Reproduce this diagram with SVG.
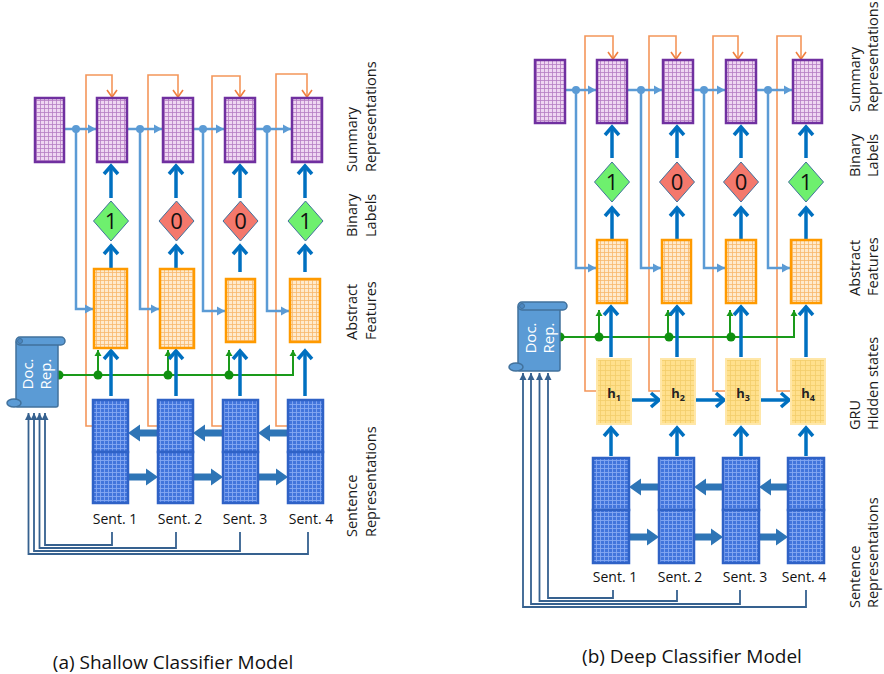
<svg xmlns="http://www.w3.org/2000/svg" width="884" height="674" viewBox="0 0 884 674">
<defs>
<style>
text{font-family:"Open Sans","Liberation Sans",sans-serif}
.pbox{fill:url(#gp);stroke:#7030a0;stroke-width:2.5}
.obox{fill:url(#go);stroke:#ff9a00;stroke-width:2.5}
.bbox{fill:url(#gb);stroke:#2f62c6;stroke-width:2.5}
.ybox{fill:url(#gy);stroke:#ffe7a8;stroke-width:2}
.lb{fill:none;stroke:#5b9bd5;stroke-width:2.5}
.tb{fill:none;stroke:#0070c0;stroke-width:3.5}
.or{fill:none;stroke:#f4965a;stroke-width:1.6}
.gr{fill:none;stroke:#1a9a1a;stroke-width:2}
.dk{fill:none;stroke:#36618f;stroke-width:1.8}
.blk{fill:#2e75b6}
.ldot{fill:#5b9bd5}
.gdot{fill:#109010}
.dg{fill:#6ef06e;stroke:#41719c;stroke-width:1}
.dr{fill:#f4786c;stroke:#41719c;stroke-width:1}
.dig{font-size:22px;text-anchor:middle;fill:#111}
.lbl{font-size:14.5px;fill:#1a1a1a}
.sent{font-size:14px;fill:#111;text-anchor:middle}
.cap{font-size:19px;fill:#111;text-anchor:middle}
.doc{font-size:15px;fill:#fff;text-anchor:middle}
.hl{font-size:13px;font-weight:bold;fill:#222;text-anchor:middle}
.scroll{fill:#5b9bd5;stroke:#41719c;stroke-width:1.5}
</style>
<pattern id="gp" width="4" height="4" patternUnits="userSpaceOnUse"><rect width="4" height="4" fill="#efd6f2"/><path d="M0,0.5H4M0.5,0V4" stroke="#b57cc4" stroke-width="0.8"/></pattern>
<pattern id="go" width="4" height="4" patternUnits="userSpaceOnUse"><rect width="4" height="4" fill="#feeacd"/><path d="M0,0.5H4M0.5,0V4" stroke="#f8b86c" stroke-width="0.8"/></pattern>
<pattern id="gb" width="4" height="4" patternUnits="userSpaceOnUse"><rect width="4" height="4" fill="#4275dc"/><path d="M0,0.5H4M0.5,0V4" stroke="#85a8f3" stroke-width="0.9"/></pattern>
<pattern id="gy" width="5" height="5" patternUnits="userSpaceOnUse"><rect width="5" height="5" fill="#ffe08c"/><path d="M0,0.5H5M0.5,0V5" stroke="#f3cd6a" stroke-width="0.8"/></pattern>
<marker id="mT" markerUnits="userSpaceOnUse" markerWidth="20" markerHeight="20" refX="9" refY="8" orient="auto" overflow="visible"><path d="M1,1L9,8L1,15" fill="none" stroke="#0070c0" stroke-width="3.5"/></marker>
<marker id="mO" markerUnits="userSpaceOnUse" markerWidth="12" markerHeight="12" refX="7" refY="5" orient="auto" overflow="visible"><path d="M0,0L7,5L0,10" fill="none" stroke="#f08040" stroke-width="1.6"/></marker>
<marker id="mL" markerUnits="userSpaceOnUse" markerWidth="12" markerHeight="12" refX="8" refY="4.5" orient="auto" overflow="visible"><path d="M0,0L8,4.5L0,9Z" fill="#5b9bd5"/></marker>
<marker id="mG" markerUnits="userSpaceOnUse" markerWidth="10" markerHeight="10" refX="6" refY="3.5" orient="auto" overflow="visible"><path d="M0,0L6,3.5L0,7Z" fill="#1a9a1a"/></marker>
<marker id="mD" markerUnits="userSpaceOnUse" markerWidth="10" markerHeight="10" refX="7" refY="3.5" orient="auto" overflow="visible"><path d="M0,0L7,3.5L0,7Z" fill="#36618f"/></marker>
</defs>
<rect width="884" height="674" fill="#fff"/>

<!-- ================= connectors ================= -->
<g id="connectors">
  <!-- panel a: orange -->
  <path class="or" marker-end="url(#mO)" d="M93,426H86V75H112V97"/>
  <path class="or" marker-end="url(#mO)" d="M158,426H148V75H178V97"/>
  <path class="or" marker-end="url(#mO)" d="M223,426H212V76H240V97"/>
  <path class="or" marker-end="url(#mO)" d="M288,426H276V74H307V97"/>
  <!-- panel a: light blue -->
  <path class="lb" marker-end="url(#mL)" d="M64,129H96"/>
  <path class="lb" marker-end="url(#mL)" d="M127,129H162"/>
  <path class="lb" marker-end="url(#mL)" d="M193,129H224"/>
  <path class="lb" marker-end="url(#mL)" d="M255,129H291"/>
  <path class="lb" marker-end="url(#mL)" d="M76,129V309H93"/>
  <path class="lb" marker-end="url(#mL)" d="M140,129V309H159"/>
  <path class="lb" marker-end="url(#mL)" d="M203,129V311H225"/>
  <path class="lb" marker-end="url(#mL)" d="M267,129V311H289"/>
  <circle class="ldot" cx="76" cy="129" r="4"/>
  <circle class="ldot" cx="140" cy="129" r="4"/>
  <circle class="ldot" cx="203" cy="129" r="4"/>
  <circle class="ldot" cx="267" cy="129" r="4"/>
  <!-- panel a: green -->
  <path class="gr" marker-end="url(#mG)" d="M59,375H293V350"/>
  <path class="gr" marker-end="url(#mG)" d="M98,375V350"/>
  <path class="gr" marker-end="url(#mG)" d="M168,375V350"/>
  <path class="gr" marker-end="url(#mG)" d="M229,375V350"/>
  <circle class="gdot" cx="59" cy="375" r="4.5"/>
  <circle class="gdot" cx="98" cy="375" r="4.5"/>
  <circle class="gdot" cx="168" cy="375" r="4.5"/>
  <circle class="gdot" cx="229" cy="375" r="4.5"/>
  <!-- panel a: thick blue -->
  <path class="tb" marker-end="url(#mT)" d="M111,198V166"/>
  <path class="tb" marker-end="url(#mT)" d="M176,198V166"/>
  <path class="tb" marker-end="url(#mT)" d="M240,198V166"/>
  <path class="tb" marker-end="url(#mT)" d="M305,198V166"/>
  <path class="tb" marker-end="url(#mT)" d="M111,269V246"/>
  <path class="tb" marker-end="url(#mT)" d="M176,277V246"/>
  <path class="tb" marker-end="url(#mT)" d="M240,272V246"/>
  <path class="tb" marker-end="url(#mT)" d="M305,272V246"/>
  <path class="tb" marker-end="url(#mT)" d="M111,396V351"/>
  <path class="tb" marker-end="url(#mT)" d="M176,396V351"/>
  <path class="tb" marker-end="url(#mT)" d="M240,396V351"/>
  <path class="tb" marker-end="url(#mT)" d="M305,396V351"/>
  <!-- panel a: block arrows -->
  <polygon class="blk" points="158,429.5 140,429.5 140,424.5 128,433 140,441.5 140,436.5 158,436.5"/>
  <polygon class="blk" points="223,429.5 205,429.5 205,424.5 193,433 205,441.5 205,436.5 223,436.5"/>
  <polygon class="blk" points="288,429.5 270,429.5 270,424.5 258,433 270,441.5 270,436.5 288,436.5"/>
  <polygon class="blk" points="128,473.5 146,473.5 146,468.5 158,477 146,485.5 146,480.5 128,480.5"/>
  <polygon class="blk" points="193,473.5 211,473.5 211,468.5 223,477 211,485.5 211,480.5 193,480.5"/>
  <polygon class="blk" points="258,473.5 276,473.5 276,468.5 288,477 276,485.5 276,480.5 258,480.5"/>
  <!-- panel a: dark return lines -->
  <path class="dk" marker-end="url(#mD)" d="M112,532V545H45V413"/>
  <path class="dk" marker-end="url(#mD)" d="M176,532V548H39.5V413"/>
  <path class="dk" marker-end="url(#mD)" d="M240,532V551H34V413"/>
  <path class="dk" marker-end="url(#mD)" d="M308,532V554H28.5V413"/>

  <!-- panel b: orange -->
  <path class="or" marker-end="url(#mO)" d="M597,391H585V36H613V59"/>
  <path class="or" marker-end="url(#mO)" d="M661,391H649V36H676V59"/>
  <path class="or" marker-end="url(#mO)" d="M726,391H713V36H738V59"/>
  <path class="or" marker-end="url(#mO)" d="M791,391H777V36H801V59"/>
  <!-- panel b: light blue -->
  <path class="lb" marker-end="url(#mL)" d="M565,90H596"/>
  <path class="lb" marker-end="url(#mL)" d="M627,90H662"/>
  <path class="lb" marker-end="url(#mL)" d="M693,90H725"/>
  <path class="lb" marker-end="url(#mL)" d="M756,90H792"/>
  <path class="lb" marker-end="url(#mL)" d="M576,90V268H596"/>
  <path class="lb" marker-end="url(#mL)" d="M641,90V268H661"/>
  <path class="lb" marker-end="url(#mL)" d="M704,90V268H725"/>
  <path class="lb" marker-end="url(#mL)" d="M768,90V268H790"/>
  <circle class="ldot" cx="576" cy="90" r="4"/>
  <circle class="ldot" cx="641" cy="90" r="4"/>
  <circle class="ldot" cx="704" cy="90" r="4"/>
  <circle class="ldot" cx="768" cy="90" r="4"/>
  <!-- panel b: green -->
  <path class="gr" marker-end="url(#mG)" d="M560,337H794V310"/>
  <path class="gr" marker-end="url(#mG)" d="M599,337V310"/>
  <path class="gr" marker-end="url(#mG)" d="M668,337V310"/>
  <path class="gr" marker-end="url(#mG)" d="M730,337V310"/>
  <circle class="gdot" cx="560" cy="337" r="4.5"/>
  <circle class="gdot" cx="599" cy="337" r="4.5"/>
  <circle class="gdot" cx="669" cy="337" r="4.5"/>
  <circle class="gdot" cx="731" cy="337" r="4.5"/>
  <!-- panel b: thick blue -->
  <path class="tb" marker-end="url(#mT)" d="M612,158V127"/>
  <path class="tb" marker-end="url(#mT)" d="M677,158V127"/>
  <path class="tb" marker-end="url(#mT)" d="M741,158V127"/>
  <path class="tb" marker-end="url(#mT)" d="M806,158V127"/>
  <path class="tb" marker-end="url(#mT)" d="M612,239V208"/>
  <path class="tb" marker-end="url(#mT)" d="M677,239V208"/>
  <path class="tb" marker-end="url(#mT)" d="M741,239V208"/>
  <path class="tb" marker-end="url(#mT)" d="M806,239V208"/>
  <path class="tb" marker-end="url(#mT)" d="M611,357V307"/>
  <path class="tb" marker-end="url(#mT)" d="M677,357V307"/>
  <path class="tb" marker-end="url(#mT)" d="M741,357V307"/>
  <path class="tb" marker-end="url(#mT)" d="M806,357V307"/>
  <path class="tb" marker-end="url(#mT)" d="M631,400H659"/>
  <path class="tb" marker-end="url(#mT)" d="M696,400H724"/>
  <path class="tb" marker-end="url(#mT)" d="M760,400H789"/>
  <path class="tb" marker-end="url(#mT)" d="M611,456V428"/>
  <path class="tb" marker-end="url(#mT)" d="M677,456V428"/>
  <path class="tb" marker-end="url(#mT)" d="M741,456V428"/>
  <path class="tb" marker-end="url(#mT)" d="M806,456V428"/>
  <!-- panel b: block arrows -->
  <polygon class="blk" points="659,483.5 641,483.5 641,478.5 629,487 641,495.5 641,490.5 659,490.5"/>
  <polygon class="blk" points="723,483.5 706,483.5 706,478.5 694,487 706,495.5 706,490.5 723,490.5"/>
  <polygon class="blk" points="788,483.5 771,483.5 771,478.5 759,487 771,495.5 771,490.5 788,490.5"/>
  <polygon class="blk" points="629,533.5 647,533.5 647,528.5 659,537 647,545.5 647,540.5 629,540.5"/>
  <polygon class="blk" points="694,533.5 711,533.5 711,528.5 723,537 711,545.5 711,540.5 694,540.5"/>
  <polygon class="blk" points="759,533.5 776,533.5 776,528.5 788,537 776,545.5 776,540.5 759,540.5"/>
  <!-- panel b: dark return lines -->
  <path class="dk" marker-end="url(#mD)" d="M613,590V598H548V373"/>
  <path class="dk" marker-end="url(#mD)" d="M677,590V601H539.5V373"/>
  <path class="dk" marker-end="url(#mD)" d="M740,590V604H531V373"/>
  <path class="dk" marker-end="url(#mD)" d="M806,590V607H523V373"/>
</g>

<!-- ================= panel a nodes ================= -->
<g id="a-sum0"><rect class="pbox" x="35" y="98" width="29" height="64"/></g>
<g id="a-sum1"><rect class="pbox" x="97" y="98" width="30" height="64"/></g>
<g id="a-sum2"><rect class="pbox" x="163" y="98" width="30" height="64"/></g>
<g id="a-sum3"><rect class="pbox" x="225" y="98" width="30" height="64"/></g>
<g id="a-sum4"><rect class="pbox" x="292" y="98" width="30" height="64"/></g>

<g id="a-lab1"><polygon class="dg" points="111,201 128.5,221 111,241 93.5,221"/><text class="dig" x="111" y="229">1</text></g>
<g id="a-lab2"><polygon class="dr" points="176.5,201 194,221 176.5,241 159,221"/><text class="dig" x="176.5" y="229">0</text></g>
<g id="a-lab3"><polygon class="dr" points="240.5,201 258,221 240.5,241 223,221"/><text class="dig" x="240.5" y="229">0</text></g>
<g id="a-lab4"><polygon class="dg" points="305.5,201 323,221 305.5,241 288,221"/><text class="dig" x="305.5" y="229">1</text></g>

<g id="a-abs1"><rect class="obox" x="94" y="269" width="33" height="79"/></g>
<g id="a-abs2"><rect class="obox" x="160" y="269" width="34" height="79"/></g>
<g id="a-abs3"><rect class="obox" x="226" y="279" width="29" height="63"/></g>
<g id="a-abs4"><rect class="obox" x="290" y="279" width="30" height="63"/></g>

<g id="a-doc" transform="translate(15,337)">
  <rect class="scroll" x="1" y="4" width="42" height="66" rx="2"/>
  <rect class="scroll" x="1" y="0" width="49" height="8" rx="4"/>
  <circle cx="5" cy="4" r="2.5" fill="#4a86c0" stroke="#41719c" stroke-width="1"/>
  <ellipse class="scroll" cx="-1" cy="66" rx="7" ry="4"/>
  <text class="doc" transform="translate(18,37) rotate(-90)">Doc.</text>
  <text class="doc" transform="translate(36,37) rotate(-90)">Rep.</text>
</g>

<g id="a-sent1"><rect class="bbox" x="93" y="400" width="35" height="52"/><rect class="bbox" x="93" y="452" width="35" height="51"/><text class="sent" x="115" y="524">Sent. 1</text></g>
<g id="a-sent2"><rect class="bbox" x="158" y="400" width="35" height="52"/><rect class="bbox" x="158" y="452" width="35" height="51"/><text class="sent" x="180" y="524">Sent. 2</text></g>
<g id="a-sent3"><rect class="bbox" x="223" y="400" width="35" height="52"/><rect class="bbox" x="223" y="452" width="35" height="51"/><text class="sent" x="245" y="524">Sent. 3</text></g>
<g id="a-sent4"><rect class="bbox" x="288" y="400" width="35" height="52"/><rect class="bbox" x="288" y="452" width="35" height="51"/><text class="sent" x="311" y="524">Sent. 4</text></g>

<g id="a-labels">
  <text class="lbl" transform="translate(357,172) rotate(-90)">Summary</text>
  <text class="lbl" transform="translate(376,172) rotate(-90)">Representations</text>
  <text class="lbl" transform="translate(357,237) rotate(-90)">Binary</text>
  <text class="lbl" transform="translate(376,237) rotate(-90)">Labels</text>
  <text class="lbl" transform="translate(357,340) rotate(-90)">Abstract</text>
  <text class="lbl" transform="translate(376,340) rotate(-90)">Features</text>
  <text class="lbl" transform="translate(357,537) rotate(-90)">Sentence</text>
  <text class="lbl" transform="translate(376,537) rotate(-90)">Representations</text>
</g>
<g id="a-caption"><text class="cap" x="173" y="669">(a) Shallow Classifier Model</text></g>

<!-- ================= panel b nodes ================= -->
<g id="b-sum0"><rect class="pbox" x="535" y="60" width="30" height="63"/></g>
<g id="b-sum1"><rect class="pbox" x="597" y="60" width="30" height="63"/></g>
<g id="b-sum2"><rect class="pbox" x="663" y="60" width="30" height="63"/></g>
<g id="b-sum3"><rect class="pbox" x="726" y="60" width="30" height="63"/></g>
<g id="b-sum4"><rect class="pbox" x="793" y="60" width="29" height="63"/></g>

<g id="b-lab1"><polygon class="dg" points="612,162 629.5,182 612,202 594.5,182"/><text class="dig" x="612" y="190">1</text></g>
<g id="b-lab2"><polygon class="dr" points="677,162 694.5,182 677,202 659.5,182"/><text class="dig" x="677" y="190">0</text></g>
<g id="b-lab3"><polygon class="dr" points="741,162 758.5,182 741,202 723.5,182"/><text class="dig" x="741" y="190">0</text></g>
<g id="b-lab4"><polygon class="dg" points="806,162 823.5,182 806,202 788.5,182"/><text class="dig" x="806" y="190">1</text></g>

<g id="b-abs1"><rect class="obox" x="597" y="240" width="30" height="63"/></g>
<g id="b-abs2"><rect class="obox" x="662" y="240" width="29" height="63"/></g>
<g id="b-abs3"><rect class="obox" x="726" y="240" width="30" height="63"/></g>
<g id="b-abs4"><rect class="obox" x="791" y="240" width="30" height="63"/></g>

<g id="b-doc" transform="translate(517,302)">
  <rect class="scroll" x="1" y="4" width="42" height="65" rx="2"/>
  <rect class="scroll" x="1" y="0" width="49" height="8" rx="4"/>
  <circle cx="5" cy="4" r="2.5" fill="#4a86c0" stroke="#41719c" stroke-width="1"/>
  <ellipse class="scroll" cx="-1" cy="65" rx="7" ry="4"/>
  <text class="doc" transform="translate(19,36) rotate(-90)">Doc.</text>
  <text class="doc" transform="translate(37,36) rotate(-90)">Rep.</text>
</g>

<g id="b-h1"><rect class="ybox" x="597" y="359" width="34" height="65"/><text class="hl" x="614" y="398">h<tspan font-size="9" dy="3">1</tspan></text></g>
<g id="b-h2"><rect class="ybox" x="661" y="359" width="34" height="65"/><text class="hl" x="678" y="398">h<tspan font-size="9" dy="3">2</tspan></text></g>
<g id="b-h3"><rect class="ybox" x="726" y="359" width="34" height="65"/><text class="hl" x="743" y="398">h<tspan font-size="9" dy="3">3</tspan></text></g>
<g id="b-h4"><rect class="ybox" x="791" y="359" width="34" height="65"/><text class="hl" x="808" y="398">h<tspan font-size="9" dy="3">4</tspan></text></g>

<g id="b-sent1"><rect class="bbox" x="593" y="458" width="36" height="52"/><rect class="bbox" x="593" y="510" width="36" height="53"/><text class="sent" x="615" y="582">Sent. 1</text></g>
<g id="b-sent2"><rect class="bbox" x="659" y="458" width="35" height="52"/><rect class="bbox" x="659" y="510" width="35" height="53"/><text class="sent" x="680" y="582">Sent. 2</text></g>
<g id="b-sent3"><rect class="bbox" x="723" y="458" width="36" height="52"/><rect class="bbox" x="723" y="510" width="36" height="53"/><text class="sent" x="745" y="582">Sent. 3</text></g>
<g id="b-sent4"><rect class="bbox" x="788" y="458" width="36" height="52"/><rect class="bbox" x="788" y="510" width="36" height="53"/><text class="sent" x="804" y="582">Sent. 4</text></g>

<g id="b-labels">
  <text class="lbl" transform="translate(860,112) rotate(-90)">Summary</text>
  <text class="lbl" transform="translate(878,112) rotate(-90)">Representations</text>
  <text class="lbl" transform="translate(860,177) rotate(-90)">Binary</text>
  <text class="lbl" transform="translate(878,177) rotate(-90)">Labels</text>
  <text class="lbl" transform="translate(860,296) rotate(-90)">Abstract</text>
  <text class="lbl" transform="translate(878,296) rotate(-90)">Features</text>
  <text class="lbl" transform="translate(860,430) rotate(-90)">GRU</text>
  <text class="lbl" transform="translate(878,430) rotate(-90)">Hidden states</text>
  <text class="lbl" transform="translate(860,608) rotate(-90)">Sentence</text>
  <text class="lbl" transform="translate(878,608) rotate(-90)">Representations</text>
</g>
<g id="b-caption"><text class="cap" x="692" y="663">(b) Deep Classifier Model</text></g>
</svg>
